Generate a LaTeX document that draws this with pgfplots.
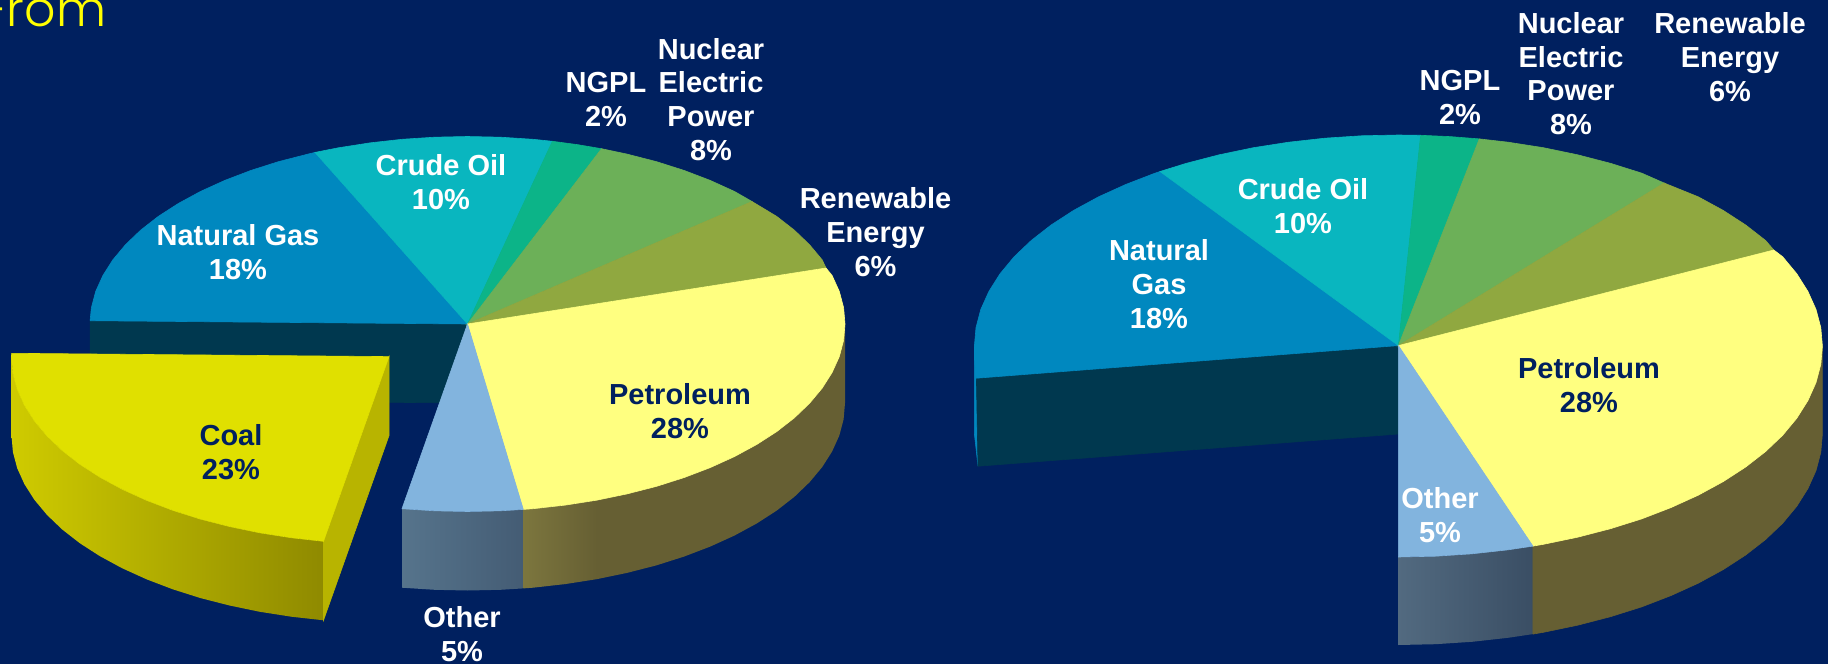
\documentclass[border=0pt]{standalone}
\usepackage{pgfplots}
\pgfplotsset{compat=1.18}
\usepackage{fontspec}
\setmainfont{Liberation Sans}
\newfontfamily\titlefont{Poppins Light}
\definecolor{bg}{HTML}{00205F}
\definecolor{cng}{HTML}{0088BF}
\definecolor{ccrude}{HTML}{09B6BF}
\definecolor{cngpl}{HTML}{0CB488}
\definecolor{cnuc}{HTML}{6CB058}
\definecolor{cren}{HTML}{90A840}
\definecolor{cpet}{HTML}{FFFF80}
\definecolor{coth}{HTML}{82B4DE}
\definecolor{ccoal}{HTML}{E0E000}
\definecolor{cwall}{HTML}{00384F}
\definecolor{cpside}{HTML}{665F33}
\definecolor{ccut}{HTML}{B8B400}
\definecolor{oa}{HTML}{56748C}
\definecolor{ob}{HTML}{445C74}
\definecolor{pa}{HTML}{7C763E}
\definecolor{ca}{HTML}{CFCB00}
\definecolor{cb}{HTML}{8F8A00}
\definecolor{ra}{HTML}{526A80}
\definecolor{rb}{HTML}{3A4E64}
\definecolor{ttl}{HTML}{FFFF00}
\pgfdeclarehorizontalshading{pside}{100bp}{color(0bp)=(pa); color(25bp)=(pa); color(36.5bp)=(cpside); color(100bp)=(cpside)}
\tikzset{
  top/.style={fill=#1,draw=#1,line width=0.3pt},
  lab/.style={align=center,inner sep=0pt,font=\fontsize{14.5}{16.9}\selectfont\bfseries,text=white},
  dlab/.style={lab,text=bg}
}
\begin{document}
\begin{tikzpicture}
\path[use as bounding box] (0,0) rectangle (914pt,332pt);
\fill[bg] (0,0) rectangle (914pt,332pt);
\begin{axis}[at={(0,0)},anchor=south west,scale only axis,width=914pt,height=332pt,
  xmin=0,xmax=1828,ymin=0,ymax=664,y dir=reverse,hide axis,no marks,clip=false]
%% ---- left pie ----
\addplot[top=cwall] coordinates {(90.1,320.7)(467.5,324)(467.5,403)(90.1,399.7)} --cycle;
\addplot[left color=oa,right color=ob,draw=none] coordinates {(402,508.7)(434.6,510.8)(467.5,511.5)(500.4,510.8)(523.3,509.4)(523.3,588.4)(500.4,589.8)(467.5,590.5)(434.6,589.8)(402,587.7)} --cycle;
\addplot[shading=pside,draw=none] coordinates {(523.3,509.4)(533,508.7)(565.2,505.1)(596.6,500.2)(627,493.9)(656.3,486.4)(684,477.6)(710.2,467.6)(734.4,456.6)(756.7,444.5)(776.7,431.6)(794.4,417.8)(809.6,403.2)(822.2,388.1)(832.1,372.5)(839.3,356.6)(843.6,340.4)(845,324)(845,403)(843.6,419.4)(839.3,435.6)(832.1,451.5)(822.2,467.1)(809.6,482.2)(794.4,496.8)(776.7,510.6)(756.7,523.5)(734.4,535.6)(710.2,546.6)(684,556.6)(656.3,565.4)(627,572.9)(596.6,579.2)(565.2,584.1)(533,587.7)(523.3,588.4)} --cycle;
% natural gas
\addplot[top=cng] coordinates {(467.5,324)(90.1,320.7)(91.4,307.6)(95.7,291.4)(102.9,275.5)(112.8,259.9)(125.4,244.8)(140.6,230.2)(158.3,216.4)(178.3,203.5)(200.6,191.4)(224.8,180.4)(251,170.4)(278.7,161.6)(308,154.1)(315,152.4)} --cycle;
% crude oil
\addplot[top=ccrude] coordinates {(467.5,324)(315,152.4)(338.4,147.8)(369.8,142.9)(402,139.3)(434.6,137.2)(467.5,136.5)(500.4,137.2)(533,139.3)(552.4,141.3)} --cycle;
% NGPL
\addplot[top=cngpl] coordinates {(467.5,324)(552.4,141.3)(577.9,144.7)(601.5,148.7)} --cycle;
% nuclear
\addplot[top=cnuc] coordinates {(467.5,324)(601.5,148.7)(627,154.1)(656.3,161.6)(684,170.4)(710.2,180.4)(734.4,191.4)(752,201.5)} --cycle;
% renewable
\addplot[top=cren] coordinates {(467.5,324)(752,201.5)(776.7,216.4)(794.4,230.2)(809.6,244.8)(822.2,259.9)(826,268)} --cycle;
% petroleum
\addplot[top=cpet] coordinates {(467.5,324)(826,268)(832.1,275.5)(839.3,291.4)(843.6,307.6)(845,324)(843.6,340.4)(839.3,356.6)(832.1,372.5)(822.2,388.1)(809.6,403.2)(794.4,417.8)(776.7,431.6)(756.7,444.5)(734.4,456.6)(710.2,467.6)(684,477.6)(656.3,486.4)(627,493.9)(596.6,500.2)(565.2,505.1)(533,508.7)(523.3,509.4)} --cycle;
% other
\addplot[top=coth] coordinates {(467.5,324)(523.3,509.4)(500.4,510.8)(467.5,511.5)(434.6,510.8)(402,508.7)} --cycle;
% coal, pulled out
\addplot[left color=ca,right color=cb,draw=none] coordinates {(11.5,356.6)(12.9,373)(17.2,389.2)(24.4,405.1)(34.3,420.7)(46.9,435.8)(62.1,450.4)(79.8,464.2)(99.8,477.1)(122.1,489.2)(146.3,500.2)(172.5,510.2)(200.2,519)(229.5,526.5)(259.9,532.8)(291.3,537.7)(323.5,541.3)(323.5,620.3)(291.3,616.7)(259.9,611.8)(229.5,605.5)(200.2,598)(172.5,589.2)(146.3,579.2)(122.1,568.2)(99.8,556.1)(79.8,543.2)(62.1,529.4)(46.9,514.8)(34.3,499.7)(24.4,484.1)(17.2,468.2)(12.9,452)(11.5,435.6)} --cycle;
\addplot[top=ccut] coordinates {(389,356.6)(323.5,541.3)(323.5,620.3)(389,435.6)} --cycle;
\addplot[top=ccoal] coordinates {(389,356.6)(11.6,353.3)(11.5,356.6)(12.9,373)(17.2,389.2)(24.4,405.1)(34.3,420.7)(46.9,435.8)(62.1,450.4)(79.8,464.2)(99.8,477.1)(122.1,489.2)(146.3,500.2)(172.5,510.2)(200.2,519)(229.5,526.5)(259.9,532.8)(291.3,537.7)(323.5,541.3)} --cycle;
%% ---- right pie ----
\addplot[top=cng] coordinates {(974.4,346)(976.4,378.2)(978,466.2)(974.4,434)} --cycle;
\addplot[top=cwall] coordinates {(976.4,378.2)(1398.4,345.6)(1398.4,434)(978,466.2)} --cycle;
\addplot[left color=ra,right color=rb,draw=none] coordinates {(1398.4,557)(1435.4,556.2)(1472,553.8)(1508.1,549.8)(1532.9,546.1)(1532.9,634.1)(1508.1,637.8)(1472,641.8)(1435.4,644.2)(1398.4,645)} --cycle;
\addplot[top=cpside] coordinates {(1532.9,546.1)(1543.4,544.3)(1577.6,537.2)(1610.4,528.7)(1641.6,518.9)(1670.9,507.6)(1698.2,495.2)(1723.2,481.6)(1745.7,467)(1765.6,451.5)(1782.7,435.2)(1796.8,418.2)(1807.9,400.6)(1816,382.6)(1820.8,364.4)(1822.4,346)(1822.4,434)(1820.8,452.4)(1816,470.6)(1807.9,488.6)(1796.8,506.2)(1782.7,523.2)(1765.6,539.5)(1745.7,555)(1723.2,569.6)(1698.2,583.2)(1670.9,595.6)(1641.6,606.9)(1610.4,616.7)(1577.6,625.2)(1543.4,632.3)(1532.9,634.1)} --cycle;
\addplot[top=cng] coordinates {(1398.4,345.6)(976.4,378.2)(975,364.4)(974.4,346)(976,327.6)(980.8,309.4)(988.9,291.4)(1000,273.8)(1014.1,256.8)(1031.2,240.5)(1051.1,225)(1073.6,210.4)(1098.6,196.8)(1125.9,184.4)(1155.2,173.1)(1160,171.5)} --cycle;
\addplot[top=ccrude] coordinates {(1398.4,345.6)(1160,171.5)(1186.4,163.3)(1219.2,154.8)(1253.4,147.7)(1288.7,142.2)(1324.8,138.2)(1361.4,135.8)(1398.4,135)(1420.6,135.3)} --cycle;
\addplot[top=cngpl] coordinates {(1398.4,345.6)(1420.6,135.3)(1450.1,136.6)(1479.3,138.9)} --cycle;
\addplot[top=cnuc] coordinates {(1398.4,345.6)(1479.3,138.9)(1508.1,142.2)(1543.4,147.7)(1577.6,154.8)(1610.4,163.3)(1641.6,173.1)(1664.1,183)} --cycle;
\addplot[top=cren] coordinates {(1398.4,345.6)(1664.1,183)(1698.2,196.8)(1723.2,210.4)(1745.7,225)(1765.6,240.5)(1773.8,250)} --cycle;
\addplot[top=cpet] coordinates {(1398.4,345.6)(1773.8,250)(1782.7,256.8)(1796.8,273.8)(1807.9,291.4)(1816,309.4)(1820.8,327.6)(1822.4,346)(1820.8,364.4)(1816,382.6)(1807.9,400.6)(1796.8,418.2)(1782.7,435.2)(1765.6,451.5)(1745.7,467)(1723.2,481.6)(1698.2,495.2)(1670.9,507.6)(1641.6,518.9)(1610.4,528.7)(1577.6,537.2)(1543.4,544.3)(1532.9,546.1)} --cycle;
\addplot[top=coth] coordinates {(1398.4,345.6)(1532.9,546.1)(1508.1,549.8)(1472,553.8)(1435.4,556.2)(1398.4,557)} --cycle;
%% ---- text ----
\node[anchor=base east,inner sep=0pt,text=ttl,font=\fontsize{24.5}{29}\titlefont] at (axis cs:106.5,26.7) {From};
\node[lab] at (axis cs:711,99.5) {Nuclear\\Electric\\Power\\8\%};
\node[lab] at (axis cs:606,99.5) {NGPL\\2\%};
\node[lab] at (axis cs:875.5,232) {Renewable\\Energy\\6\%};
\node[lab] at (axis cs:441,182) {Crude Oil\\10\%};
\node[lab] at (axis cs:238,252) {Natural Gas\\18\%};
\node[dlab] at (axis cs:680,411) {Petroleum\\28\%};
\node[dlab] at (axis cs:231,452) {Coal\\23\%};
\node[lab] at (axis cs:462,634) {Other\\5\%};
\node[lab] at (axis cs:1571,73.7) {Nuclear\\Electric\\Power\\8\%};
\node[lab] at (axis cs:1730,57) {Renewable\\Energy\\6\%};
\node[lab] at (axis cs:1460,97.4) {NGPL\\2\%};
\node[lab] at (axis cs:1303,206) {Crude Oil\\10\%};
\node[lab] at (axis cs:1159,284) {Natural\\Gas\\18\%};
\node[dlab] at (axis cs:1589,385.4) {Petroleum\\28\%};
\node[lab] at (axis cs:1440,515.5) {Other\\5\%};
\end{axis}
\end{tikzpicture}
\end{document}
